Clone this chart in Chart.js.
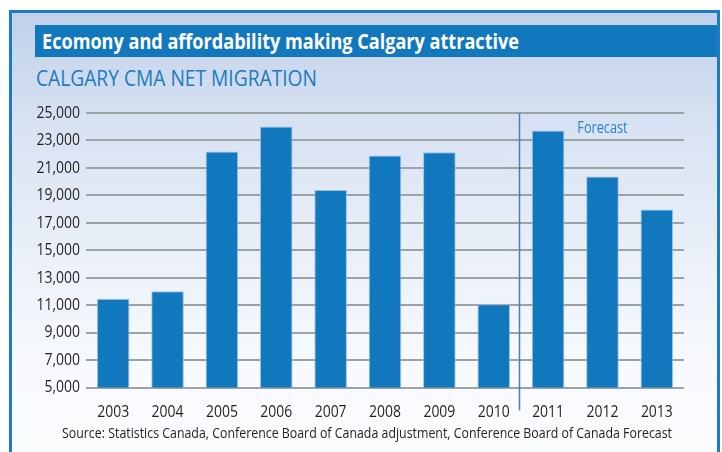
<!DOCTYPE html>
<html>
<head>
<meta charset="utf-8">
<script src="https://cdn.jsdelivr.net/npm/chart.js@4/dist/chart.umd.min.js"></script>
<style>
  html, body { margin: 0; padding: 0; background: #ffffff; }
  body { width: 722px; height: 452px; position: relative; overflow: hidden; }
  #frame {
    position: absolute; left: 9px; top: 10px; width: 705px; height: 460px;
    border: 3px solid #1b7bc4; border-bottom: none;
    background: linear-gradient(to bottom, #c1d1ea 0px, #d9e3f2 120px, #ecf1f9 250px, #f8fafd 360px, #fbfcfe 460px);
  }
  #titlebar {
    position: absolute; left: 35px; top: 25px; width: 682px; height: 32px;
    background: #1278be;
  }
  .fit { position: absolute; white-space: nowrap; transform-origin: 0 50%; font-family: "Open Sans", sans-serif; }
  #title { left: 42px; top: 25px; line-height: 32px; height: 32px; color: #ffffff; font-weight: bold; font-size: 21px; }
  #subtitle { left: 36px; top: 64px; line-height: 26px; color: #1a7bc0; font-size: 22px; }
  #source { left: 62px; top: 423px; line-height: 18px; color: #231f20; font-size: 15px; }
  #chartwrap { position: absolute; left: 0; top: 0; width: 722px; height: 452px; }
</style>
</head>
<body>
<div id="frame"></div>
<div id="titlebar"></div>
<div id="title" class="fit" data-w="477">Ecomony and affordability making Calgary attractive</div>
<div id="subtitle" class="fit" data-w="281">CALGARY CMA NET MIGRATION</div>
<div id="chartwrap"><canvas id="c" width="722" height="452"></canvas></div>
<div id="source" class="fit" data-w="610">Source: Statistics Canada, Conference Board of Canada adjustment, Conference Board of Canada Forecast</div>
<script>
const years = ["2003","2004","2005","2006","2007","2008","2009","2010","2011","2012","2013"];
const netMigration = [11460, 12020, 22190, 24020, 19390, 21900, 22140, 11070, 23720, 20370, 17960];
const yTickValues = [5000, 7000, 9000, 11000, 13000, 15000, 17000, 19000, 21000, 23000, 25000];
const forecastStartIndex = 8;
const forecastLabel = "Forecast";

// condensed look: fit HTML text to the reference widths
document.querySelectorAll('.fit').forEach(el => {
  const w = el.getBoundingClientRect().width;
  const target = parseFloat(el.dataset.w);
  el.style.transform = 'scaleX(' + (target / w) + ')';
});

const FONT = "'Open Sans', sans-serif";
const TEXT_SCALE = 0.82;

const canvas = document.getElementById('c');
const ctx2d = canvas.getContext('2d');
const origFillText = ctx2d.fillText.bind(ctx2d);
ctx2d.fillText = function (t, x, y) {
  this.save();
  this.translate(x, y);
  this.scale(TEXT_SCALE, 1);
  origFillText(t, 0, 0);
  this.restore();
};

const forecastPlugin = {
  id: 'forecast',
  afterDatasetsDraw(chart) {
    const ctx = chart.ctx;
    const xs = chart.scales.x;
    const ys = chart.scales.y;
    const x = Math.round((xs.getPixelForValue(forecastStartIndex - 1) + xs.getPixelForValue(forecastStartIndex)) / 2) - 1.5;
    ctx.save();
    ctx.strokeStyle = '#4a7db8';
    ctx.lineWidth = 1.5;
    ctx.beginPath();
    ctx.moveTo(x, ys.getPixelForValue(25000));
    ctx.lineTo(x, ys.bottom + 23);
    ctx.stroke();
    ctx.fillStyle = '#2a84c8';
    ctx.font = "15.5px " + FONT;
    ctx.textAlign = 'center';
    ctx.textBaseline = 'middle';
    const cx = (xs.getPixelForValue(forecastStartIndex) + xs.getPixelForValue(years.length - 1)) / 2;
    ctx.fillText(forecastLabel, cx, ys.getPixelForValue(24000) + 2);
    ctx.restore();
  }
};

new Chart(canvas, {
  type: 'bar',
  data: {
    labels: years,
    datasets: [{
      data: netMigration,
      backgroundColor: '#1278be',
      borderColor: 'rgba(150,190,225,0.9)',
      borderWidth: { top: 1, left: 1, right: 1, bottom: 0 },
      barPercentage: 0.6,
      categoryPercentage: 1.0
    }]
  },
  options: {
    responsive: false,
    animation: false,
    devicePixelRatio: 1,
    layout: { padding: { left: 0, right: 38, top: 113, bottom: 0 } },
    plugins: { legend: { display: false }, tooltip: { enabled: false } },
    scales: {
      x: {
        grid: { display: false },
        border: { display: false },
        ticks: { color: '#231f20', font: { family: FONT, size: 17 }, padding: 6 },
        afterFit(s) { s.height = 64.5; }
      },
      y: {
        min: 5000, max: 25000,
        afterBuildTicks(s) { s.ticks = yTickValues.map(v => ({ value: v })); },
        grid: { color: '#9aa3a5', lineWidth: 2, drawTicks: false },
        border: { display: false },
        ticks: {
          color: '#231f20', font: { family: FONT, size: 17 }, padding: 6,
          callback: v => v.toLocaleString('en-US')
        },
        afterFit(s) { s.width = 86; }
      }
    }
  },
  plugins: [forecastPlugin]
});
</script>
</body>
</html>
